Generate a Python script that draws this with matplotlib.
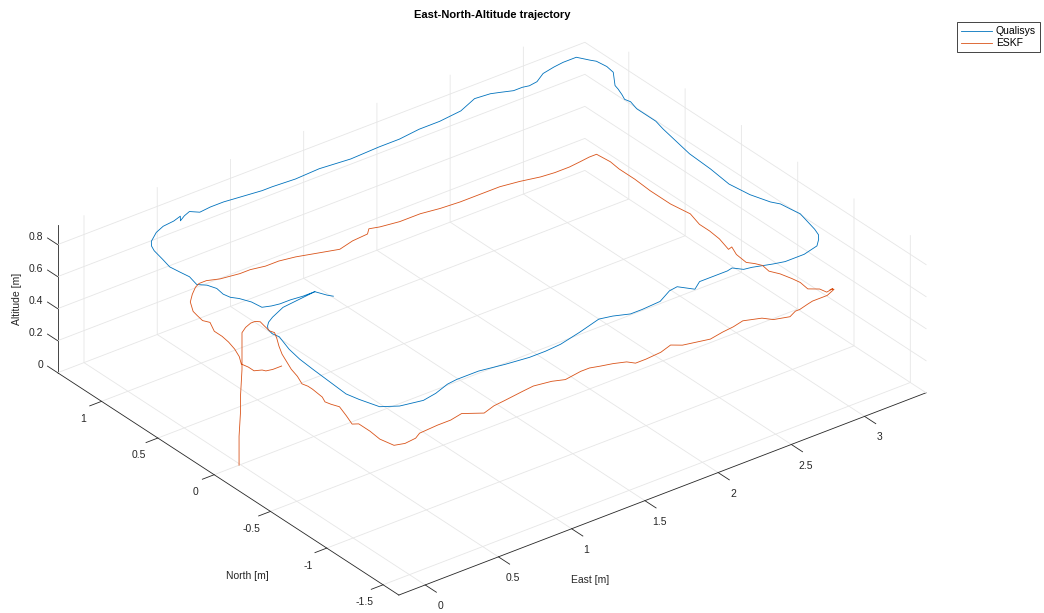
import numpy as np
import matplotlib
matplotlib.use("Agg")
import matplotlib.pyplot as plt
from matplotlib.ticker import FuncFormatter, NullLocator

plt.rcParams['font.family'] = ['Liberation Sans', 'DejaVu Sans']
plt.rcParams['axes.unicode_minus'] = False
plt.rcParams['xtick.major.width'] = 0.6
plt.rcParams['ytick.major.width'] = 0.6

# Qualisys motion-capture reference (East / North in metres, flown at about 0.88 m)
qualisys_east = [0.53, 0.29, 0.18, 0.13, 0.10, 0.08, 0.07, 0.08, 0.04, 0.02, 0.01, 0.00, -0.01, 0.01, 0.05,
                 0.14, 0.28, 0.38, 0.49, 0.56, 0.71, 0.87, 1.02, 1.13, 1.24, 1.40, 1.57, 1.65, 1.74, 1.82,
                 1.95, 2.06, 2.12, 2.15, 2.18, 2.25, 2.44, 2.48, 2.52, 2.57, 2.68, 2.75, 2.79, 2.88, 2.99,
                 3.04, 3.07, 3.09, 3.11, 3.13, 3.12, 3.11, 3.08, 3.04, 3.02, 3.04, 3.05, 3.08, 3.10, 3.12,
                 3.12, 3.12, 3.14, 3.13, 3.15, 3.17, 3.18, 3.26, 3.27, 3.26, 3.24, 3.20, 3.15, 3.11, 3.04,
                 2.95, 2.87, 2.81, 2.77, 2.71, 2.64, 2.59, 2.49, 2.35, 2.19, 2.05, 1.90, 1.76, 1.56, 1.36,
                 1.19, 1.04, 0.97, 0.89, 0.81, 0.73, 0.64, 0.56, 0.52, 0.47, 0.42, 0.45, 0.39, 0.31, 0.24,
                 0.16, 0.13, 0.11, 0.09, 0.07, 0.08, 0.09, 0.07, 0.11, 0.13, 0.12, 0.13, 0.16, 0.19, 0.20,
                 0.25, 0.30, 0.37, 0.45, 0.53, 0.56, 0.58]
qualisys_north = [0.03, 0.00, -0.05, -0.08, -0.11, -0.14, -0.19, -0.24, -0.38, -0.50, -0.63, -0.79, -0.95, -1.04,
                  -1.17, -1.23, -1.26, -1.24, -1.20, -1.19, -1.19, -1.22, -1.24, -1.24, -1.23, -1.19, -1.14,
                  -1.16, -1.20, -1.20, -1.19, -1.13, -1.12, -1.16, -1.20, -1.15, -1.15, -1.14, -1.19, -1.20,
                  -1.24, -1.26, -1.26, -1.26, -1.23, -1.18, -1.14, -1.08, -0.99, -0.90, -0.83, -0.75, -0.70,
                  -0.57, -0.41, -0.22, -0.02, 0.16, 0.28, 0.37, 0.44, 0.54, 0.62, 0.66, 0.71, 0.77, 0.81, 0.93,
                  1.00, 1.08, 1.11, 1.18, 1.18, 1.18, 1.17, 1.15, 1.10, 1.09, 1.10, 1.10, 1.13, 1.15, 1.16,
                  1.10, 1.08, 1.08, 1.06, 1.06, 1.05, 1.07, 1.06, 1.07, 1.07, 1.08, 1.09, 1.10, 1.10, 1.09,
                  1.13, 1.11, 1.08, 1.12, 1.10, 1.09, 1.06, 1.00, 0.96, 0.91, 0.81, 0.72, 0.64, 0.57, 0.48,
                  0.44, 0.38, 0.31, 0.26, 0.22, 0.15, 0.07, 0.05, 0.04, 0.04, 0.03, 0.03, -0.04, -0.07]
qualisys_alt = 0.88

# ESKF estimate: take-off from the origin, then the loop at about 0.83 m
eskf_takeoff_east = [-0.01, -0.01, 0.00, 0.00, 0.01, 0.01, 0.01]
eskf_takeoff_alt = [0.00, 0.18, 0.33, 0.43, 0.59, 0.70, 0.82]
eskf_east = [0.05, 0.10, 0.13, 0.15, 0.14, 0.13, 0.14, 0.11, 0.07, 0.03, 0.00, -0.03, -0.05, -0.08, -0.07,
             -0.07, -0.08, -0.10, -0.09, -0.07, -0.10, -0.13, -0.10, -0.10, -0.11, -0.09, -0.03, 0.05, 0.10,
             0.23, 0.32, 0.41, 0.51, 0.60, 0.68, 0.82, 0.90, 1.01, 1.08, 1.20, 1.26, 1.32, 1.39, 1.46, 1.49,
             1.56, 1.67, 1.76, 1.81, 1.89, 1.97, 2.07, 2.15, 2.23, 2.28, 2.33, 2.37, 2.46, 2.52, 2.55, 2.62,
             2.66, 2.76, 2.83, 2.81, 2.83, 2.78, 2.77, 2.72, 2.73, 2.72, 2.71, 2.70, 2.67, 2.68, 2.66, 2.63,
             2.64, 2.67, 2.64, 2.67, 2.68, 2.68, 2.71, 2.69, 2.69, 2.70, 2.70, 2.71, 2.70, 2.65, 2.58, 2.50,
             2.40, 2.31, 2.19, 2.07, 1.94, 1.80, 1.67, 1.55, 1.41, 1.29, 1.23, 1.19, 1.08, 0.97, 0.91, 0.85,
             0.73, 0.63, 0.54, 0.45, 0.38, 0.32, 0.26, 0.19, 0.14, 0.10, 0.04, -0.02, -0.07, -0.08, -0.09,
             -0.07, -0.11, -0.11, -0.12, -0.14, -0.17, -0.21, -0.20, -0.20, -0.16, -0.15, -0.11, -0.05]
eskf_north = [0.02, 0.04, 0.04, 0.02, -0.03, -0.09, -0.12, -0.18, -0.25, -0.33, -0.41, -0.49, -0.57, -0.65,
              -0.69, -0.73, -0.83, -0.88, -0.92, -0.97, -1.07, -1.16, -1.18, -1.28, -1.38, -1.48, -1.50,
              -1.49, -1.46, -1.45, -1.45, -1.43, -1.50, -1.47, -1.46, -1.44, -1.43, -1.45, -1.48, -1.46,
              -1.46, -1.48, -1.50, -1.53, -1.57, -1.57, -1.56, -1.53, -1.57, -1.59, -1.61, -1.59, -1.58,
              -1.56, -1.58, -1.60, -1.65, -1.68, -1.65, -1.65, -1.63, -1.62, -1.62, -1.59, -1.58, -1.58,
              -1.59, -1.54, -1.50, -1.42, -1.36, -1.32, -1.28, -1.22, -1.15, -1.11, -1.07, -0.97, -0.89,
              -0.90, -0.78, -0.68, -0.59, -0.47, -0.32, -0.14, 0.01, 0.15, 0.24, 0.35, 0.35, 0.34, 0.33,
              0.33, 0.34, 0.37, 0.39, 0.39, 0.39, 0.40, 0.42, 0.42, 0.44, 0.46, 0.42, 0.41, 0.38, 0.40,
              0.42, 0.46, 0.48, 0.48, 0.50, 0.50, 0.51, 0.52, 0.55, 0.55, 0.53, 0.48, 0.42, 0.33, 0.28,
              0.22, 0.18, 0.09, 0.02, -0.05, -0.13, -0.21, -0.28, -0.33, -0.38, -0.40, -0.42, -0.43, -0.43]
eskf_loop_alt = 0.83

east_ticks = [0, 0.5, 1, 1.5, 2, 2.5, 3]
north_ticks = [-1.5, -1, -0.5, 0, 0.5, 1]
alt_ticks = [0, 0.2, 0.4, 0.6, 0.8]

E_LIM = (-0.18, 3.42)
N_LIM = (-1.64, 1.39)
Z_LIM = (0, 0.92)
AX_COLOR = '#262626'
GRID_COLOR = '#e6e6e6'

q_e = np.array(qualisys_east)
q_n = np.array(qualisys_north)
q_z = np.full(q_e.size, qualisys_alt)
k_e = np.concatenate([eskf_takeoff_east, eskf_east])
k_n = np.concatenate([np.zeros(len(eskf_takeoff_east)), eskf_north])
k_z = np.concatenate([eskf_takeoff_alt, np.full(len(eskf_east), eskf_loop_alt)])

fig = plt.figure(figsize=(10.44, 6.13), dpi=100)
ax = fig.add_axes([0.0481, -0.2246, 0.8238, 1.4029], projection='3d', proj_type='ortho')
ax.computed_zorder = False
ax.set_xlim(*E_LIM)
ax.set_ylim(*N_LIM)
ax.set_zlim(*Z_LIM)
ax.set_box_aspect((664, 560, 170), zoom=1)
ax.view_init(elev=30, azim=-127.5)

ax.set_xticks(east_ticks)
ax.set_yticks(north_ticks)
ax.zaxis.set_major_locator(NullLocator())
fmt = FuncFormatter(lambda v, p: "%g" % v)
for axis, f in ((ax.xaxis, 0.41), (ax.yaxis, 0.28), (ax.zaxis, 0.0)):
    axis.set_major_formatter(fmt)
    axis.set_pane_color((1, 1, 1, 0))
    axis.pane.set_edgecolor((1, 1, 1, 0))
    axis.line.set_color(AX_COLOR)
    axis.line.set_linewidth(0.6)
    axis._axinfo['grid'].update(color=GRID_COLOR, linewidth=0.6)
    axis._axinfo['tick']['inward_factor'] = f
    axis._axinfo['tick']['outward_factor'] = 0.0
    # axis titles are placed as figure text below; the 3-D ones stay hidden
    axis.label.set_visible(False)
    axis.offsetText.set_visible(False)
ax.tick_params(colors=AX_COLOR, labelsize=7.5)
ax.xaxis.set_tick_params(pad=6)

# Altitude grid on the two back walls, ticks pointing outwards along North at the left corner
for zt in alt_ticks:
    ax.plot([E_LIM[0], E_LIM[1], E_LIM[1]], [N_LIM[1], N_LIM[1], N_LIM[0]], [zt, zt, zt],
            color=GRID_COLOR, lw=0.6, zorder=0.5, clip_on=False)
    ax.plot([E_LIM[0], E_LIM[0]], [N_LIM[1], N_LIM[1] + 0.09], [zt, zt], color=AX_COLOR, lw=0.6,
            zorder=1, clip_on=False)
    ax.text(E_LIM[0], N_LIM[1] + 0.13, zt - 0.01, "%g" % zt, ha='right', va='center', fontsize=7.5,
            color=AX_COLOR)

l1, = ax.plot(q_e, q_n, q_z, color='#0072BD', lw=0.6, zorder=2, clip_on=False)
l2, = ax.plot(k_e, k_n, k_z, color='#D95319', lw=0.6, zorder=2, clip_on=False)

fig.text(492 / 1044, 1 - 15 / 613, 'East-North-Altitude trajectory', ha='center', va='center',
         fontsize=8, fontweight='bold')
fig.text(17 / 1044, 1 - 299 / 613, 'Altitude [m]', rotation=90, ha='center', va='center', fontsize=7.5, color=AX_COLOR)
fig.text(247 / 1044, 1 - 576 / 613, 'North [m]', ha='center', va='center', fontsize=7.5, color=AX_COLOR)
fig.text(590 / 1044, 1 - 580 / 613, 'East [m]', ha='center', va='center', fontsize=7.5, color=AX_COLOR)

leg = fig.legend([l1, l2], ['Qualisys', 'ESKF'], loc='upper right', bbox_to_anchor=(1040 / 1044, 1 - 22 / 613),
                 frameon=True, fancybox=False, edgecolor=AX_COLOR, framealpha=1, fontsize=7.5,
                 handlelength=3.0, borderpad=0.4, labelspacing=0.2, handletextpad=0.35, borderaxespad=0)
leg.get_frame().set_linewidth(0.6)

fig.savefig("out.png")
